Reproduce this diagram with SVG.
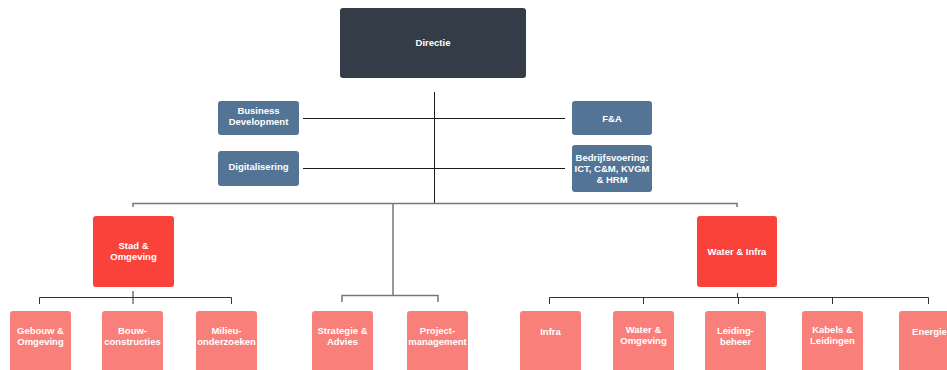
<svg xmlns="http://www.w3.org/2000/svg" width="947" height="370" viewBox="0 0 947 370">
<style>
.t{font-family:"Liberation Sans",Arial,sans-serif;font-weight:700;font-size:9.5px;fill:#ffffff;text-anchor:middle}
.top{fill:#343c47}
.staff{fill:#537495}
.div{fill:#f9423a}
.sub{fill:#f9807a}
.k{stroke:#1a1a1a;stroke-width:1;fill:none}
.g{stroke:#777777;stroke-width:1.5;fill:none}
.d{stroke:#333333;stroke-width:1;fill:none}
</style>
<rect width="947" height="370" fill="#ffffff"/>
<g id="connectors">
<path class="k" d="M434.5 92V203"/>
<path class="k" d="M303 118.5H565M303 168.5H565"/>
<path class="g" d="M133 207V203.5H737V207"/>
<path class="g" d="M393 203.5V295.5M342 302V295.5H438V302"/>
<path class="d" d="M133 291V297.5M39.5 304V297.5H231.5V304M133 297.5V304"/>
<path class="d" d="M737.5 293V297.5M549.5 304V297.5H928.5V304M643.5 297.5V304M738.5 297.5V304M832.5 297.5V304"/>
</g>
<g id="directie"><rect class="top" x="340" y="8" width="186" height="70" rx="3"/><text class="t" x="433" y="45.5" font-size="10.5px">Directie</text></g>
<g id="business-development"><rect class="staff" x="218" y="101" width="81" height="34" rx="3"/><text class="t" x="258.5" y="114">Business</text><text class="t" x="258.5" y="125.2">Development</text></g>
<g id="digitalisering"><rect class="staff" x="218" y="151" width="81" height="35" rx="3"/><text class="t" x="258.5" y="169.5">Digitalisering</text></g>
<g id="fa"><rect class="staff" x="572" y="101" width="80" height="34" rx="3"/><text class="t" x="612" y="121.5">F&amp;A</text></g>
<g id="bedrijfsvoering"><rect class="staff" x="572" y="145" width="80" height="47" rx="3"/><text class="t" x="612" y="160.5">Bedrijfsvoering:</text><text class="t" x="612" y="171.7">ICT, C&amp;M, KVGM</text><text class="t" x="612" y="182.9">&amp; HRM</text></g>
<g id="stad-omgeving"><rect class="div" x="93" y="216" width="81" height="71" rx="3"/><text class="t" x="133.5" y="249">Stad &amp;</text><text class="t" x="133.5" y="260.2">Omgeving</text></g>
<g id="water-infra"><rect class="div" x="697" y="216" width="80" height="71" rx="3"/><text class="t" x="737" y="254.5">Water &amp; Infra</text></g>
<g id="gebouw-omgeving"><rect class="sub" x="10" y="311" width="61" height="70" rx="3"/><text class="t" x="40.5" y="333.5">Gebouw &amp;</text><text class="t" x="40.5" y="344.7">Omgeving</text></g>
<g id="bouwconstructies"><rect class="sub" x="102" y="311" width="61" height="70" rx="3"/><text class="t" x="132.5" y="333.5">Bouw-</text><text class="t" x="132.5" y="344.7">constructies</text></g>
<g id="milieuonderzoeken"><rect class="sub" x="196" y="311" width="61" height="70" rx="3"/><text class="t" x="226.5" y="333.5">Milieu-</text><text class="t" x="226.5" y="344.7">onderzoeken</text></g>
<g id="strategie-advies"><rect class="sub" x="312" y="311" width="61" height="70" rx="3"/><text class="t" x="342.5" y="333.5">Strategie &amp;</text><text class="t" x="342.5" y="344.7">Advies</text></g>
<g id="projectmanagement"><rect class="sub" x="407" y="311" width="61" height="70" rx="3"/><text class="t" x="437.5" y="333.5">Project-</text><text class="t" x="437.5" y="344.7">management</text></g>
<g id="infra"><rect class="sub" x="520" y="311" width="61" height="70" rx="3"/><text class="t" x="550.5" y="334.5">Infra</text></g>
<g id="water-omgeving"><rect class="sub" x="613" y="311" width="61" height="70" rx="3"/><text class="t" x="643.5" y="333">Water &amp;</text><text class="t" x="643.5" y="344.2">Omgeving</text></g>
<g id="leidingbeheer"><rect class="sub" x="705" y="311" width="61" height="70" rx="3"/><text class="t" x="735.5" y="333.5">Leiding-</text><text class="t" x="735.5" y="344.7">beheer</text></g>
<g id="kabels-leidingen"><rect class="sub" x="802" y="311" width="61" height="70" rx="3"/><text class="t" x="832.5" y="333">Kabels &amp;</text><text class="t" x="832.5" y="344.2">Leidingen</text></g>
<g id="energie"><rect class="sub" x="899" y="311" width="61" height="70" rx="3"/><text class="t" x="929.5" y="334.5">Energie</text></g>
</svg>
